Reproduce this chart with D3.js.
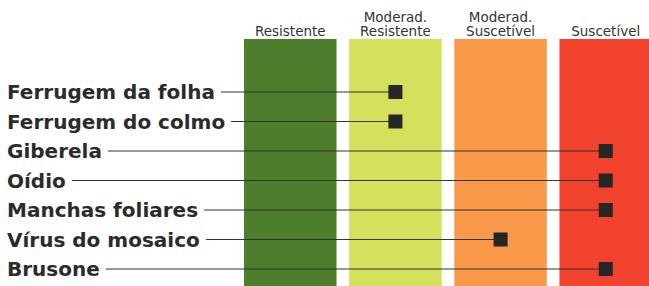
<!DOCTYPE html>
<head>
<meta charset="utf-8">
<style>
body { margin: 0; background: #fff; }
.level-label { font: 13.5px "DejaVu Sans", sans-serif; fill: #333; text-anchor: middle; }
.disease-label { font: bold 20px "DejaVu Sans", sans-serif; fill: #2b2b2b; }
.leader { stroke: #333; stroke-width: 1.2; }
.marker { fill: #262626; }
</style>
</head>
<body>
<svg width="649" height="286"></svg>
<script src="https://d3js.org/d3.v7.min.js"></script>
<script>
// resistance levels (columns) and their header text
var levels = ["Resistente", "Moderad. Resistente", "Moderad. Suscetível", "Suscetível"];
var levelHeaders = [["Resistente"], ["Moderad.", "Resistente"], ["Moderad.", "Suscetível"], ["Suscetível"]];
var levelColors = ["#4e7d2e", "#d5e05c", "#f99a4a", "#f2432f"];

// diseases (rows) and the level each one reached
var diseases = ["Ferrugem da folha", "Ferrugem do colmo", "Giberela", "Oídio",
                "Manchas foliares", "Vírus do mosaico", "Brusone"];
var ratings = ["Moderad. Resistente", "Moderad. Resistente", "Suscetível", "Suscetível",
               "Suscetível", "Moderad. Suscetível", "Suscetível"];

var svg = d3.select("svg"),
    width = +svg.attr("width"),
    height = +svg.attr("height");

var x = d3.scaleBand()
    .domain(levels)
    .range([244, 652])
    .paddingInner(0.12);

var y = d3.scalePoint()
    .domain(diseases)
    .range([92, 269]);

// coloured columns
svg.append("g").selectAll("rect")
  .data(levels)
  .enter().append("rect")
    .attr("x", function(d) { return x(d); })
    .attr("y", 39)
    .attr("width", x.bandwidth())
    .attr("height", height - 39)
    .style("fill", function(d, i) { return levelColors[i]; });

// column headers
var head = svg.append("g").selectAll("text")
  .data(levels)
  .enter().append("text")
    .attr("class", "level-label")
    .attr("x", function(d) { return x(d) + x.bandwidth() / 2; });

head.selectAll("tspan")
  .data(function(d, i) { return levelHeaders[i].slice().reverse(); })
  .enter().append("tspan")
    .attr("x", function() { return d3.select(this.parentNode).attr("x"); })
    .attr("y", function(d, j) { return 36 - j * 14.5; })
    .text(function(d) { return d; });

// rows
var row = svg.append("g").selectAll("g")
  .data(diseases)
  .enter().append("g")
    .attr("transform", function(d) { return "translate(0," + y(d) + ")"; });

row.append("text")
    .attr("class", "disease-label")
    .attr("x", 7)
    .attr("y", 7)
    .text(function(d) { return d; });

row.append("line")
    .attr("class", "leader")
    .attr("x1", function() { return 7 + this.parentNode.querySelector("text").getComputedTextLength() + 6; })
    .attr("x2", function(d, i) { return x(ratings[i]) + x.bandwidth() / 2; });

row.append("rect")
    .attr("class", "marker")
    .attr("x", function(d, i) { return x(ratings[i]) + x.bandwidth() / 2 - 7; })
    .attr("y", -7)
    .attr("width", 14)
    .attr("height", 14);
</script>
</body>
